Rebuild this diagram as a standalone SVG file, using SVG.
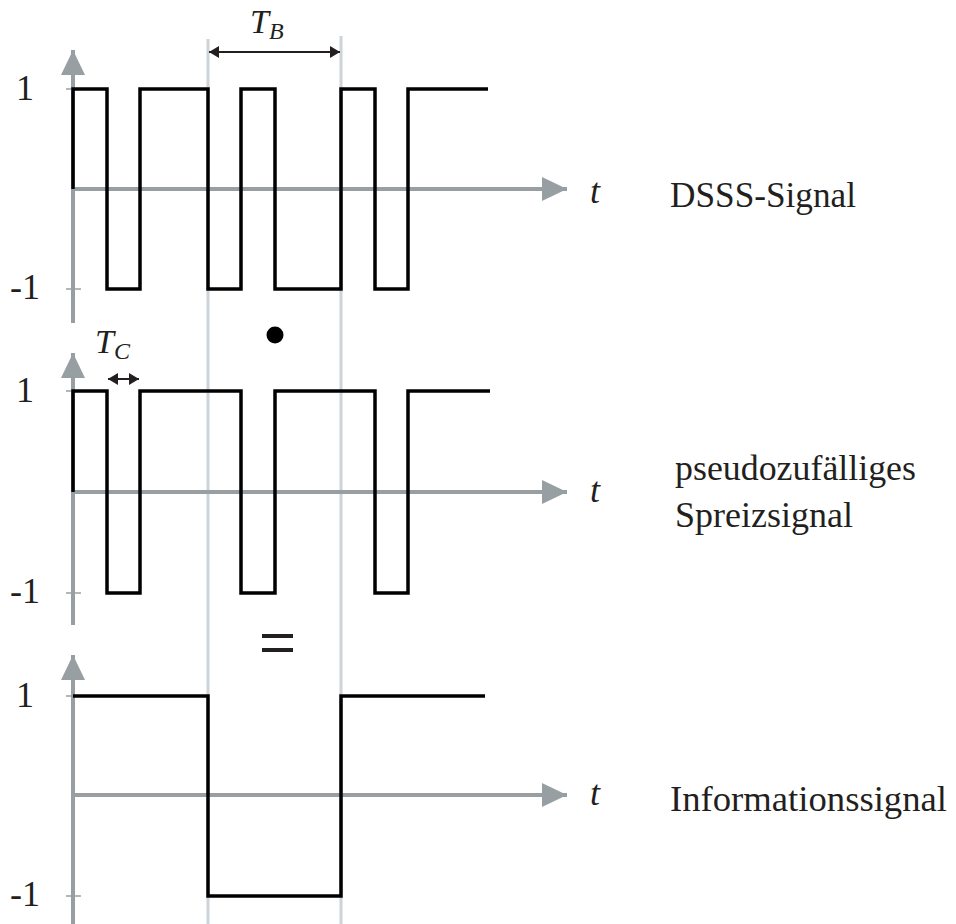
<svg xmlns="http://www.w3.org/2000/svg" width="956" height="924" viewBox="0 0 956 924">
  <style>
    .axis { stroke: #979fa3; stroke-width: 4; fill: none; }
    .tick { stroke: #979fa3; stroke-width: 1.5; fill: none; }
    .guide { stroke: #cdd4d9; stroke-width: 3; fill: none; }
    .sig { stroke: #000; stroke-width: 3.5; fill: none; stroke-linejoin: miter; stroke-linecap: butt; }
    .dim { stroke: #231f20; stroke-width: 2; fill: none; }
  </style>
  <defs>
    <marker id="axhead" markerUnits="userSpaceOnUse" markerWidth="28" markerHeight="26" refX="25" refY="12" orient="auto">
      <path d="M0,0 L25,12 L0,24 Z" fill="#979fa3"/>
    </marker>
    <marker id="dimhead" markerUnits="userSpaceOnUse" markerWidth="12" markerHeight="12" refX="10" refY="6" orient="auto-start-reverse">
      <path d="M0,0 L10,6 L0,12 Z" fill="#231f20"/>
    </marker>
  </defs>

  <!-- bit period guides -->
  <g id="guides">
    <line class="guide" x1="208" y1="39" x2="208" y2="924"/>
    <line class="guide" x1="341" y1="36" x2="341" y2="924"/>
  </g>

  <!-- axes -->
  <g id="axes">
    <line class="axis" x1="73" y1="323" x2="73" y2="50" marker-end="url(#axhead)"/>
    <line class="axis" x1="73" y1="189" x2="567" y2="189" marker-end="url(#axhead)"/>
    <line class="tick" x1="66" y1="89" x2="81" y2="89"/>
    <line class="tick" x1="66" y1="289" x2="81" y2="289"/>

    <line class="axis" x1="73" y1="625" x2="73" y2="353" marker-end="url(#axhead)"/>
    <line class="axis" x1="73" y1="492" x2="567" y2="492" marker-end="url(#axhead)"/>
    <line class="tick" x1="66" y1="391" x2="81" y2="391"/>
    <line class="tick" x1="66" y1="593" x2="81" y2="593"/>

    <line class="axis" x1="73" y1="924" x2="73" y2="655" marker-end="url(#axhead)"/>
    <line class="axis" x1="73" y1="795" x2="567" y2="795" marker-end="url(#axhead)"/>
    <line class="tick" x1="66" y1="696" x2="81" y2="696"/>
    <line class="tick" x1="66" y1="896" x2="81" y2="896"/>
  </g>

  <!-- DSSS signal -->
  <g id="dsss">
    <path class="sig" d="M73,189 V89 H107 V289 H140 V89 H208 V289 H241 V89 H275 V289 H341 V89 H375 V289 H408 V89 H488"/>
    <text x="34" y="100" text-anchor="end" font-family="Liberation Serif" font-size="36" fill="#231f20">1</text>
    <text x="40" y="299" text-anchor="end" font-family="Liberation Serif" font-size="36" fill="#231f20">-1</text>
    <text x="590" y="203" font-family="Liberation Serif" font-style="italic" font-size="36" fill="#231f20">t</text>
    <text x="670" y="207" textLength="186" lengthAdjust="spacingAndGlyphs" font-family="Liberation Serif" font-size="36" fill="#231f20">DSSS-Signal</text>
  </g>

  <!-- spreading code -->
  <g id="spread">
    <path class="sig" d="M73,492 V391 H107 V593 H140 V391 H241 V593 H275 V391 H375 V593 H408 V391 H490"/>
    <text x="34" y="402" text-anchor="end" font-family="Liberation Serif" font-size="36" fill="#231f20">1</text>
    <text x="40" y="603" text-anchor="end" font-family="Liberation Serif" font-size="36" fill="#231f20">-1</text>
    <text x="590" y="502" font-family="Liberation Serif" font-style="italic" font-size="36" fill="#231f20">t</text>
    <text x="675" y="480" textLength="241" lengthAdjust="spacingAndGlyphs" font-family="Liberation Serif" font-size="36" fill="#231f20">pseudozufälliges</text>
    <text x="675" y="527" textLength="178" lengthAdjust="spacingAndGlyphs" font-family="Liberation Serif" font-size="36" fill="#231f20">Spreizsignal</text>
  </g>

  <!-- information signal -->
  <g id="info">
    <path class="sig" d="M73,696 H208 V896 H341 V696 H485"/>
    <text x="34" y="707" text-anchor="end" font-family="Liberation Serif" font-size="36" fill="#231f20">1</text>
    <text x="40" y="906" text-anchor="end" font-family="Liberation Serif" font-size="36" fill="#231f20">-1</text>
    <text x="590" y="805" font-family="Liberation Serif" font-style="italic" font-size="36" fill="#231f20">t</text>
    <text x="670" y="811" textLength="277" lengthAdjust="spacingAndGlyphs" font-family="Liberation Serif" font-size="36" fill="#231f20">Informationssignal</text>
  </g>

  <!-- operators -->
  <g id="operators">
    <circle cx="275" cy="335" r="8.5" fill="#000"/>
    <rect x="262" y="634" width="31" height="4" fill="#231f20"/>
    <rect x="262" y="648" width="31" height="4" fill="#231f20"/>
  </g>

  <!-- period dimensions -->
  <g id="dimensions">
    <line class="dim" x1="209" y1="52" x2="340" y2="52" marker-start="url(#dimhead)" marker-end="url(#dimhead)"/>
    <text x="250" y="33" font-family="Liberation Serif" font-style="italic" font-size="34" fill="#231f20">T<tspan font-size="24" dy="6">B</tspan></text>
    <line class="dim" x1="108" y1="379" x2="139" y2="379" marker-start="url(#dimhead)" marker-end="url(#dimhead)"/>
    <text x="95" y="353" font-family="Liberation Serif" font-style="italic" font-size="34" fill="#231f20">T<tspan font-size="24" dy="6">C</tspan></text>
  </g>
</svg>
